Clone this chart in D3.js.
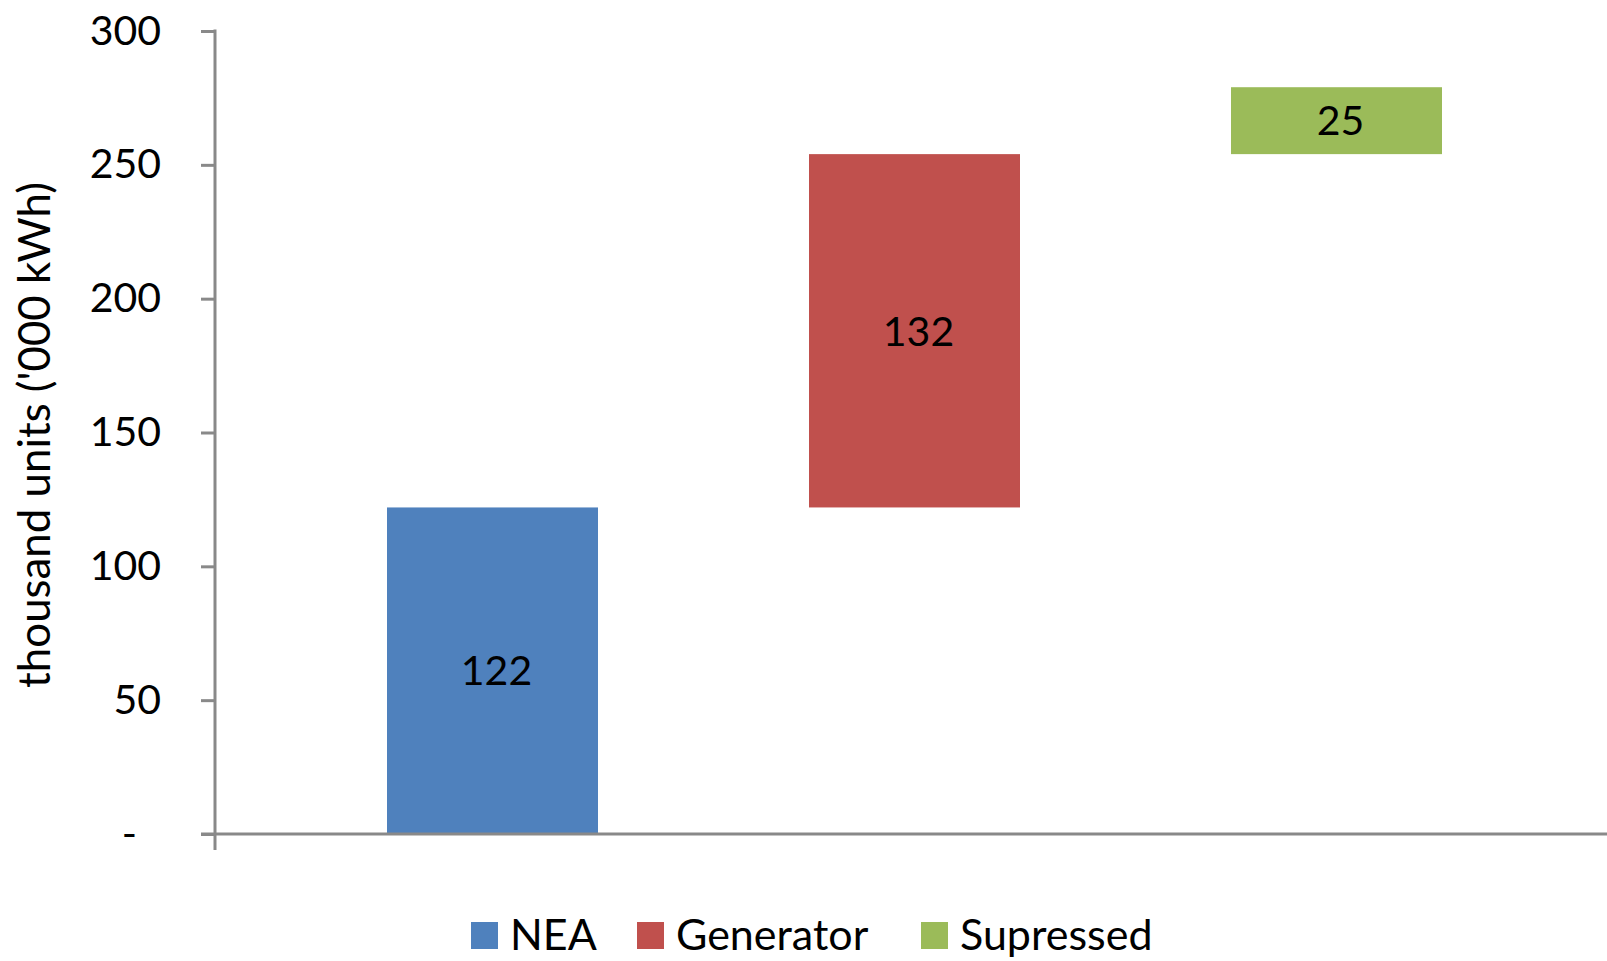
<!DOCTYPE html>
<html>
<head>
<meta charset="utf-8">
<script src="https://cdn.jsdelivr.net/npm/d3@7"></script>
<style>
  html, body { margin: 0; padding: 0; background: #fff; }
  svg { display: block; }
  text { font-family: Lato, "Open Sans", sans-serif; fill: #000; }
</style>
</head>
<body>
<svg id="chart" width="1607" height="961"></svg>
<script>
// ---- data ----
const categories = ["NEA", "Generator", "Supressed"];
const values = [122, 132, 25];
const colors = ["#4F81BD", "#C0504D", "#9BBB59"];
const yTicks = [0, 50, 100, 150, 200, 250, 300];
const yTitle = "thousand units ('000 kWh)";

// ---- layout ----
const svg = d3.select("#chart");
const fontSize = 41;
const axisX = 215, zeroY = 834, topY = 31;
const axisColor = "#898989";

// waterfall bases
let run = 0;
const bars = categories.map((c, i) => {
  const d = { cat: c, value: values[i], base: run, top: run + values[i], color: colors[i] };
  run += values[i];
  return d;
});

const y = d3.scaleLinear().domain([0, 300]).range([zeroY, topY]);
const x = d3.scaleBand().domain(categories).range([281.5, 1547.5])
  .paddingInner(0.5).paddingOuter(0.25);

// bars
svg.append("g").selectAll("rect").data(bars).join("rect")
  .attr("x", d => x(d.cat))
  .attr("width", x.bandwidth())
  .attr("y", d => y(d.top))
  .attr("height", d => y(d.base) - y(d.top))
  .attr("fill", d => d.color);

// data labels
svg.append("g").selectAll("text").data(bars).join("text")
  .attr("x", d => x(d.cat) + x.bandwidth() / 2 + 4)
  .attr("y", d => y((d.base + d.top) / 2))
  .attr("dy", "0.36em")
  .attr("text-anchor", "middle")
  .style("font-size", fontSize + "px")
  .text(d => d.value);

// y axis
const yAxis = d3.axisLeft(y).tickValues(yTicks).tickSize(14).tickPadding(40)
  .tickFormat(d => d === 0 ? "-" : d3.format("d")(d));
const gy = svg.append("g").attr("transform", `translate(${axisX},0)`).call(yAxis);
gy.select(".domain").remove();
gy.selectAll(".tick line").attr("stroke", axisColor).attr("stroke-width", 3);
gy.selectAll(".tick text").style("font-size", fontSize + "px").attr("fill", "#000")
  .attr("dx", d => d === 0 ? -24 : 0);
// vertical axis line (extends slightly below zero)
svg.append("line").attr("x1", axisX).attr("x2", axisX)
  .attr("y1", y(300) - 1.5).attr("y2", zeroY + 16)
  .attr("stroke", axisColor).attr("stroke-width", 3);
// horizontal axis line
svg.append("line").attr("x1", axisX - 14).attr("x2", 1607)
  .attr("y1", zeroY).attr("y2", zeroY)
  .attr("stroke", axisColor).attr("stroke-width", 3);

// y title
const yt = svg.append("text")
  .attr("transform", `translate(50,435) rotate(-90)`)
  .attr("text-anchor", "middle")
  .style("font-size", fontSize + "px")
  .text(yTitle);
const len = yt.node().getComputedTextLength();
yt.style("font-size", (fontSize * 506 / len) + "px");

// legend
const legendX = [471, 637, 921];
const lg = svg.append("g").selectAll("g").data(bars).join("g")
  .attr("transform", (d, i) => `translate(${legendX[i]},922)`);
lg.append("rect").attr("width", 27).attr("height", 27).attr("fill", d => d.color);
lg.append("text").attr("x", 39).attr("y", 28)
  .style("font-size", "43px")
  .text(d => d.cat);
</script>
</body>
</html>
